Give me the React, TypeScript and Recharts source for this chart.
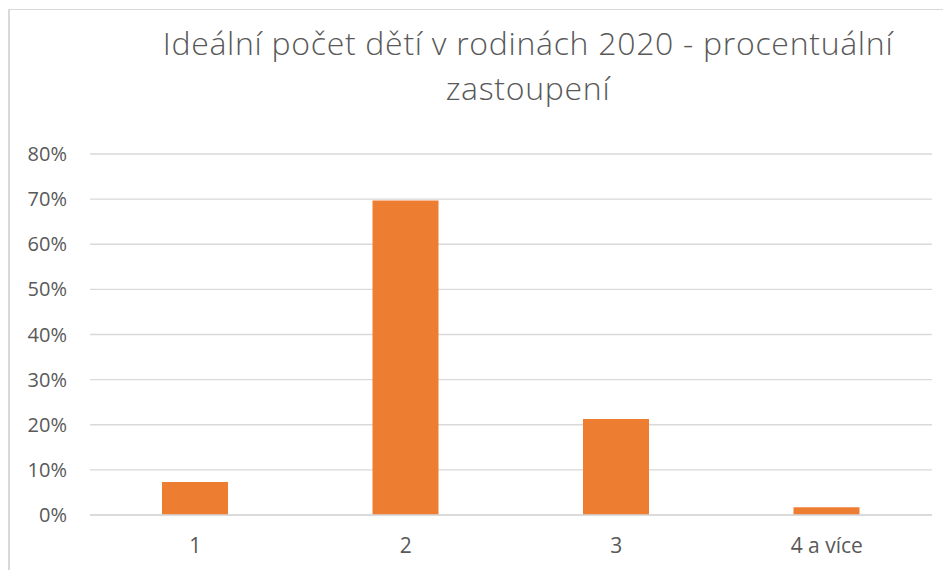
import React from "react";
import { BarChart, Bar, XAxis, YAxis, CartesianGrid } from "recharts";

const categories = ["1", "2", "3", "4 a více"];
const values = [7.3, 69.7, 21.3, 1.7];
const yTicks = [0, 10, 20, 30, 40, 50, 60, 70, 80];
const titleLine1 = "Ideální počet dětí v rodinách 2020 - procentuální";
const titleLine2 = "zastoupení";

const data = categories.map((c, i) => ({ name: c, value: values[i] }));

const TEXT = "#595959";
const GRID = "#d9d9d9";
const BAR = "#ED7D31";
const FONT = "'Open Sans', sans-serif";

export default function App() {
  return (
    <div style={{ position: "relative", width: 943, height: 562, overflow: "hidden", background: "#fff" }}>
      <div
        style={{
          position: "absolute",
          left: 0,
          top: 1,
          width: 1000,
          height: 1000,
          borderLeft: `2px solid ${GRID}`,
          borderTop: `1px solid ${GRID}`,
          boxSizing: "border-box",
        }}
      />
      <div
        style={{
          position: "absolute",
          left: 120,
          top: 12,
          width: 800,
          textAlign: "center",
          fontFamily: FONT,
          fontWeight: 300,
          fontSize: 32,
          letterSpacing: 0.7,
          lineHeight: "45px",
          color: TEXT,
          whiteSpace: "nowrap",
        }}
      >
        {titleLine1}
        <br />
        {titleLine2}
      </div>
      <div style={{ position: "absolute", left: 0, top: 0 }}>
        <BarChart
          width={943}
          height={562}
          data={data}
          margin={{ top: 146, right: 19, bottom: 15, left: 22 }}
        >
          <CartesianGrid vertical={false} stroke={GRID} strokeWidth={1.3} />
          <XAxis
            dataKey="name"
            axisLine={{ stroke: GRID, strokeWidth: 1.3 }}
            tickLine={false}
            tickSize={0}
            tickMargin={23}
            height={40}
            tick={{ fill: TEXT, fontSize: 21, fontFamily: FONT }}
            interval={0}
          />
          <YAxis
            domain={[0, 80]}
            ticks={yTicks}
            tickFormatter={(v: number) => `${v}%`}
            axisLine={false}
            tickLine={false}
            tickSize={0}
            tickMargin={23}
            width={60}
            tick={{ fill: TEXT, fontSize: 20, fontFamily: FONT }}
            interval={0}
          />
          <Bar dataKey="value" fill={BAR} barSize={66} isAnimationActive={false} />
        </BarChart>
      </div>
    </div>
  );
}
